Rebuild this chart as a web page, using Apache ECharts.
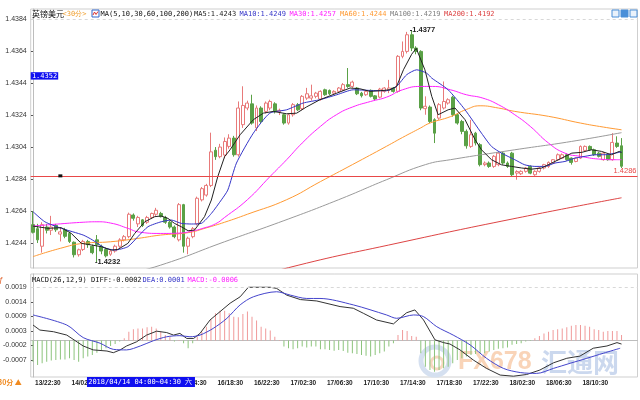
<!DOCTYPE html>
<html><head><meta charset="utf-8">
<script src="https://cdn.jsdelivr.net/npm/echarts@6/dist/echarts.min.js"></script>
<style>html,body{margin:0;padding:0;background:#fff}#c{width:640px;height:400px}</style>
</head><body><div id="c"></div>
<script>
// ---- time categories (30-minute candles, weekend gap) ----
function buildTimes(){
  const out=[];
  const add=(day,startMin,endMin)=>{
    for(let m=startMin;m<=endMin;m+=30){
      const d=day+Math.floor(m/1440), mm=m%1440;
      out.push(String(d).padStart(2,'0')+'/'+String(Math.floor(mm/60)).padStart(2,'0')+':'+String(mm%60).padStart(2,'0'));
    }
  };
  add(13,22*60+30,24*60+4*60+30);   // 13/22:30 .. 14/04:30
  add(16,5*60,2*1440+15*60);        // 16/05:00 .. 18/15:00
  return out;
}
const categories = buildTimes();

// ---- candles: [open, close, low, high] ----
const ohlc = [
[1.42555,1.42507,1.42500,1.42638],[1.42530,1.42460,1.42440,1.42560],[1.42420,1.42555,1.42380,1.42570],[1.42540,1.42520,1.42500,1.42560],
[1.42520,1.42540,1.42490,1.42610],[1.42550,1.42523,1.42510,1.42560],[1.42496,1.42510,1.42450,1.42540],[1.42523,1.42482,1.42470,1.42535],
[1.42500,1.42450,1.42440,1.42510],[1.42445,1.42367,1.42350,1.42450],[1.42367,1.42398,1.42355,1.42405],[1.42400,1.42450,1.42390,1.42460],
[1.42450,1.42430,1.42410,1.42460],[1.42420,1.42380,1.42370,1.42430],[1.42460,1.42430,1.42321,1.42490],[1.42420,1.42390,1.42370,1.42430],
[1.42400,1.42360,1.42350,1.42410],[1.42370,1.42390,1.42360,1.42400],[1.42390,1.42420,1.42380,1.42430],[1.42420,1.42460,1.42410,1.42470],
[1.42460,1.42480,1.42450,1.42490],[1.42480,1.42620,1.42470,1.42630],[1.42615,1.42595,1.42580,1.42625],[1.42560,1.42600,1.42540,1.42610],
[1.42585,1.42550,1.42540,1.42590],[1.42570,1.42600,1.42560,1.42610],[1.42600,1.42625,1.42590,1.42630],[1.42620,1.42645,1.42610,1.42660],
[1.42625,1.42605,1.42600,1.42635],[1.42600,1.42570,1.42560,1.42610],[1.42570,1.42540,1.42530,1.42580],[1.42540,1.42480,1.42470,1.42550],
[1.42460,1.42680,1.42450,1.42690],[1.42680,1.42420,1.42380,1.42685],[1.42420,1.42470,1.42370,1.42480],[1.42480,1.42530,1.42470,1.42540],
[1.42560,1.42720,1.42550,1.42730],[1.42710,1.42780,1.42700,1.42790],[1.42740,1.42800,1.42730,1.42810],[1.42800,1.43010,1.42790,1.43130],
[1.43020,1.42980,1.42960,1.43040],[1.42980,1.43040,1.42970,1.43060],[1.42990,1.43075,1.42970,1.43100],[1.43044,1.43096,1.43030,1.43120],
[1.43096,1.42992,1.42980,1.43110],[1.42992,1.43284,1.42980,1.43325],[1.43180,1.43300,1.43160,1.43420],[1.43284,1.43315,1.43270,1.43330],
[1.43310,1.43190,1.43180,1.43367],[1.43160,1.43284,1.43140,1.43300],[1.43284,1.43200,1.43190,1.43295],[1.43263,1.43315,1.43250,1.43325],
[1.43284,1.43325,1.43270,1.43336],[1.43310,1.43260,1.43250,1.43320],[1.43260,1.43270,1.43240,1.43280],[1.43242,1.43190,1.43180,1.43250],
[1.43190,1.43242,1.43180,1.43250],[1.43242,1.43305,1.43230,1.43315],[1.43305,1.43273,1.43265,1.43315],[1.43280,1.43357,1.43270,1.43365],
[1.43346,1.43373,1.43335,1.43410],[1.43346,1.43360,1.43330,1.43430],[1.43357,1.43377,1.43345,1.43385],[1.43340,1.43388,1.43330,1.43395],
[1.43398,1.43367,1.43360,1.43405],[1.43394,1.43373,1.43365,1.43400],[1.43377,1.43388,1.43370,1.43395],[1.43388,1.43409,1.43380,1.43415],
[1.43398,1.43430,1.43390,1.43440],[1.43430,1.43419,1.43410,1.43534],[1.43419,1.43446,1.43410,1.43455],[1.43409,1.43373,1.43365,1.43415],
[1.43377,1.43361,1.43350,1.43385],[1.43367,1.43388,1.43360,1.43395],[1.43394,1.43357,1.43350,1.43400],[1.43360,1.43340,1.43330,1.43365],
[1.43352,1.43402,1.43345,1.43410],[1.43388,1.43409,1.43380,1.43415],[1.43398,1.43409,1.43377,1.43460],[1.43409,1.43388,1.43380,1.43415],
[1.43388,1.43607,1.43380,1.43615],[1.43607,1.43638,1.43595,1.43700],[1.43638,1.43742,1.43625,1.43760],[1.43742,1.43659,1.43640,1.43770],
[1.43659,1.43638,1.43620,1.43670],[1.43638,1.43284,1.43270,1.43645],[1.43280,1.43295,1.43242,1.43357],[1.43290,1.43200,1.43190,1.43300],
[1.43211,1.43127,1.43065,1.43220],[1.43221,1.43305,1.43210,1.43315],[1.43284,1.43325,1.43275,1.43450],[1.43315,1.43336,1.43305,1.43345],
[1.43352,1.43242,1.43230,1.43360],[1.43242,1.43190,1.43180,1.43250],[1.43200,1.43138,1.43120,1.43210],[1.43138,1.43048,1.43030,1.43150],
[1.43044,1.43117,1.43035,1.43210],[1.43127,1.43065,1.43050,1.43135],[1.43055,1.42930,1.42919,1.43065],[1.42930,1.42940,1.42920,1.42950],
[1.42940,1.42919,1.42910,1.42950],[1.42919,1.42982,1.42910,1.42990],[1.42930,1.43002,1.42920,1.43010],[1.43002,1.42940,1.42930,1.43010],
[1.42940,1.42919,1.42910,1.42950],[1.43002,1.42867,1.42857,1.43010],[1.42877,1.42887,1.42836,1.42895],[1.42873,1.42888,1.42865,1.42895],
[1.42888,1.42909,1.42880,1.42915],[1.42919,1.42877,1.42870,1.42925],[1.42867,1.42888,1.42860,1.42895],[1.42888,1.42909,1.42880,1.42915],
[1.42909,1.42930,1.42900,1.42935],[1.42919,1.42944,1.42910,1.42950],[1.42940,1.42961,1.42935,1.42965],[1.42961,1.42992,1.42955,1.43000],
[1.42971,1.42992,1.42965,1.43000],[1.42992,1.42961,1.42955,1.43000],[1.42971,1.42944,1.42930,1.42975],[1.42950,1.42971,1.42945,1.42975],
[1.42971,1.43044,1.42965,1.43050],[1.43019,1.43044,1.43010,1.43050],[1.43044,1.43023,1.43015,1.43050],[1.43023,1.42992,1.42985,1.43030],
[1.43002,1.42982,1.42975,1.43010],[1.42961,1.43002,1.42955,1.43010],[1.42992,1.42961,1.42955,1.43000],[1.42961,1.43069,1.42955,1.43127],
[1.43065,1.43044,1.43035,1.43107],[1.43048,1.42920,1.42909,1.43096]
];

// ---- moving averages: [candle index, price] ----
const ma5 = [[0,1.42546],[3.3,1.42532],[6.2,1.42536],[8.4,1.42500],[10.6,1.42438],[12.8,1.42428],[15,1.42417],[17.2,1.42396],[18.6,1.42400],[20.8,1.42438],[22.3,1.42500],[24.5,1.42573],[26.7,1.42605],[28.1,1.42609],[29.6,1.42594],[31,1.42563],[32.5,1.42542],[34,1.42517],[35.4,1.42521],[37.6,1.42605],[39.1,1.42709],[40.5,1.42855],[42,1.42980],[43.2,1.43023],[45.4,1.43117],[48.3,1.43211],[50.5,1.43252],[52.7,1.43263],[55.6,1.43248],[57.8,1.43252],[59.9,1.43290],[62.9,1.43336],[66.6,1.43377],[69.5,1.43409],[71.7,1.43404],[73.9,1.43388],[76.1,1.43392],[78.2,1.43398],[79.7,1.43419],[81.2,1.43523],[83,1.43620],[84,1.43657],[85.9,1.43523],[87.4,1.43357],[88.8,1.43242],[91,1.43273],[92.5,1.43284],[94.7,1.43211],[96.9,1.43086],[98.3,1.43023],[100.5,1.42961],[102.7,1.42929],[104.9,1.42919],[107.1,1.42909],[109.3,1.42902],[111.5,1.42909],[113.7,1.42940],[115.9,1.42971],[118.1,1.43002],[120.3,1.43007],[122.4,1.43023],[124.6,1.43013],[126.8,1.42992],[128.5,1.43013],[129,1.43005]];
const ma10 = [[0,1.42636],[2.6,1.42573],[6.2,1.42532],[11,1.42490],[13,1.42460],[15.7,1.42410],[17.9,1.42396],[20.8,1.42417],[23,1.42480],[25.2,1.42542],[28.1,1.42573],[30.3,1.42584],[32.5,1.42563],[34.7,1.42559],[36.9,1.42563],[39.1,1.42625],[41.3,1.42710],[42.7,1.42771],[44.6,1.42940],[48.3,1.43127],[51.9,1.43252],[55.6,1.43273],[59.2,1.43315],[62.9,1.43336],[66.6,1.43367],[70.2,1.43398],[73.9,1.43394],[77.5,1.43392],[79.7,1.43419],[81.9,1.43492],[84.1,1.43523],[86.3,1.43502],[87.4,1.43471],[91,1.43398],[94.7,1.43273],[98.3,1.43127],[100.5,1.43044],[102.7,1.43002],[105.6,1.42961],[107.8,1.42929],[110,1.42919],[112.2,1.42919],[114.4,1.42940],[116.6,1.42950],[118.8,1.42971],[121,1.42982],[123.2,1.42992],[125.4,1.42992],[127.6,1.43002],[129,1.43010]];
const ma30 = [[0,1.42546],[6,1.42560],[11,1.42570],[14,1.42573],[17,1.42565],[21,1.42530],[23,1.42510],[28,1.42500],[32,1.42502],[35,1.42515],[37,1.42530],[40,1.42560],[42,1.42600],[47,1.42711],[52,1.42857],[55.6,1.42961],[59,1.43065],[63,1.43169],[66.5,1.43242],[70,1.43290],[74,1.43325],[77.5,1.43352],[81,1.43398],[85,1.43419],[87.6,1.43419],[91.5,1.43398],[95,1.43367],[98.6,1.43346],[102,1.43305],[105.6,1.43242],[109,1.43169],[113,1.43065],[116.6,1.43002],[120,1.42982],[124,1.42965],[127.6,1.42961],[129,1.42961]];
const ma60 = [[0,1.42355],[6,1.42407],[11,1.42438],[17,1.42448],[23,1.42469],[28,1.42490],[34,1.42505],[38,1.42535],[42,1.42570],[47,1.42620],[55.6,1.42711],[63,1.42824],[70,1.42930],[77.5,1.43045],[81,1.43100],[85,1.43160],[87,1.43190],[91.5,1.43230],[95,1.43275],[98,1.43298],[102,1.43284],[105.6,1.43263],[113,1.43232],[120,1.43190],[125,1.43165],[129,1.43148]];
const ma100 = [[11,1.42190],[20,1.42245],[28,1.42302],[42,1.42448],[55,1.42580],[67,1.42711],[77.5,1.42836],[86,1.42930],[91.5,1.42961],[105.6,1.43023],[118,1.43075],[129,1.43130]];
const ma200 = [[11,1.41920],[30,1.42080],[56,1.42286],[80,1.42440],[105,1.42590],[129,1.42723]];

// ---- MACD(26,12,9) ----
const macdDiff = [[0,0.00055],[1.5,0.00037],[4.5,0.00031],[7.4,0.00019],[11,-0.00020],[13.2,-0.00034],[16.2,-0.00038],[17.6,-0.00044],[19.1,-0.00034],[20.5,-0.00020],[22.7,-0.00005],[24.9,0.00019],[27.1,0.00033],[29.3,0.00028],[30.8,0.00019],[32.2,0.00025],[33.7,0.00007],[35.2,0.00007],[36.6,0.00025],[38.8,0.00073],[41,0.00103],[43.2,0.00133],[45.4,0.00156],[47.2,0.00190],[52,0.00190],[53.4,0.00186],[55.6,0.00162],[58.6,0.00146],[62.2,0.00141],[67.3,0.00121],[70.2,0.00115],[72.4,0.00097],[75.3,0.00073],[79,0.00059],[80.4,0.00079],[81.9,0.00099],[83.7,0.00109],[85.6,0.00073],[88.1,0.00002],[90,-0.00008],[91.4,-0.00013],[93.6,-0.00034],[96.5,-0.00070],[99.4,-0.00100],[102.4,-0.00124],[105.3,-0.00128],[108.2,-0.00122],[111.1,-0.00106],[114.1,-0.00080],[117,-0.00064],[119.9,-0.00056],[122.8,-0.00028],[125.8,-0.00020],[128,-0.00008],[129,-0.00013]];
const macdDea = [[0,0.00091],[7.4,0.00055],[11,0.00010],[14.7,-0.00010],[17.6,-0.00032],[20.5,-0.00034],[23.5,-0.00020],[26.4,-0.00001],[29.3,0.00013],[32.2,0.00017],[34.4,0.00013],[36.6,0.00019],[39.5,0.00043],[42.5,0.00079],[45.4,0.00127],[48.3,0.00156],[53.4,0.00174],[56.4,0.00162],[60,0.00150],[62.9,0.00150],[70.2,0.00127],[77.5,0.00091],[79.7,0.00079],[83.4,0.00091],[85.6,0.00085],[88.5,0.00049],[92.1,0.00019],[95.8,-0.00016],[99.4,-0.00064],[103.1,-0.00100],[106.8,-0.00115],[110.4,-0.00118],[114.1,-0.00100],[117.7,-0.00082],[121.4,-0.00064],[125,-0.00046],[128.7,-0.00028]];
const macdHist = [-0.00076,-0.00088,-0.00082,-0.00076,-0.00072,-0.00070,-0.00068,-0.00068,-0.00064,-0.00070,-0.00076,-0.00064,-0.00058,-0.00052,-0.00044,-0.00034,-0.00028,-0.00020,-0.00013,-0.00004,
0.000075,0.00031,0.00040,0.00043,0.00043,0.00047,0.00049,0.00043,0.00031,0.00019,0.00013,-0.00004,0.000015,-0.00010,-0.00028,-0.00010,0.00013,0.00031,0.00049,0.00075,
0.00097,0.00106,0.00106,0.00097,0.00085,0.00083,0.00094,0.00103,0.00085,0.00071,0.00049,0.00043,0.00035,0.00013,0.000015,-0.00022,-0.00028,-0.00032,-0.00028,-0.00022,
-0.00025,-0.00022,-0.00022,-0.00032,-0.00032,-0.00034,-0.00037,-0.00034,-0.00038,-0.00044,-0.00046,-0.00049,-0.00052,-0.00055,-0.00058,-0.00052,-0.00046,-0.00040,-0.00022,-0.00010,
0.00019,0.00037,0.00034,0.00016,0.00013,-0.00046,-0.00094,-0.00106,-0.00112,-0.00106,-0.00100,-0.00094,-0.00082,-0.00070,-0.00064,-0.00058,-0.00052,-0.00049,-0.00046,-0.00046,
-0.00040,-0.00034,-0.00030,-0.00028,-0.00025,-0.00016,-0.00013,-0.00010,-0.00004,-0.00002,0.000075,0.00016,0.00025,0.00031,0.00037,0.00040,0.00043,0.00047,0.00052,0.00055,
0.00055,0.00052,0.00049,0.00040,0.00037,0.00031,0.00034,0.00034,0.00034,0.00019];

// ---- axis ticks and marked values ----
const priceTicks = [1.4244,1.4264,1.4284,1.4304,1.4324,1.4344,1.4364,1.4384];
const macdTicks = [-0.0007,-0.00018,0.00034,0.00086,0.00138,0.0019];
const lastPrice = 1.4286;
const lowMark = [14, 1.4232];
const highMark = [83, 1.4377];
const crossIndex = 11, crossPrice = 1.4352;
const crossTimeLabel = '2018/04/14 04:00~04:30 六';

// ---------------------------------------------------------------
const PAD = 3;
const cats = categories.concat(Array(PAD).fill(''));
const N = cats.length;
const GL = 30.7, GR = 2.5;
const mono = "'DejaVu Sans Mono', 'Liberation Mono', monospace";
const sans = "'Liberation Sans', Arial, sans-serif";
const C = {up:'#e87a7a', down:'#5aa146', ma5:'#222222', ma10:'#3535c8', ma30:'#ff22ff', ma60:'#ff9a33', ma100:'#9a9a9a', ma200:'#dd4444', price:'#e84848'};

function lineSeries(name, data, color, xi, yi, smooth, extra){
  return Object.assign({name, type:'line', xAxisIndex:xi, yAxisIndex:yi, data, showSymbol:false, symbol:'none', smooth:smooth,
    lineStyle:{color, width:1}, z:4, silent:true}, extra||{});
}

const chart = echarts.init(document.getElementById('c'), null, {renderer:'canvas'});
const option = {
  animation:false,
  backgroundColor:'#ffffff',
  grid:[
    {left:GL, right:GR, top:9, height:259, show:true, borderColor:'#cfcfcf', borderWidth:1},
    {left:GL, right:GR, top:274, height:103, show:true, borderColor:'#cfcfcf', borderWidth:1}
  ],
  xAxis:[
    {type:'category', gridIndex:0, data:cats, boundaryGap:true, show:false},
    {type:'value', gridIndex:0, min:-0.5, max:N-0.5, show:false},
    {type:'category', gridIndex:1, data:cats, boundaryGap:true,
      axisLine:{show:true, lineStyle:{color:'#bdbdbd'}}, axisTick:{show:false},
      axisLabel:{interval:(i)=> i%8===0 && i<=120, align:'left', padding:[0,0,0,2], margin:3,
        fontSize:6.5, fontWeight:'bold', color:'#222', fontFamily:sans}},
    {type:'value', gridIndex:1, min:-0.5, max:N-0.5, show:false}
  ],
  yAxis:[
    {type:'value', gridIndex:0, min:1.42284, max:1.43903, scale:true,
      axisLine:{show:true, lineStyle:{color:'#bdbdbd'}},
      axisTick:{show:true, length:2, customValues:priceTicks, lineStyle:{color:'#555'}},
      axisLabel:{customValues:priceTicks, formatter:(v)=>v.toFixed(4), fontSize:7, color:'#333', margin:4, fontFamily:sans},
      splitLine:{show:false}},
    {type:'value', gridIndex:1, min:-0.001309, max:0.0023748,
      axisLine:{show:true, lineStyle:{color:'#bdbdbd'}},
      axisTick:{show:true, length:2, customValues:macdTicks, lineStyle:{color:'#555'}},
      axisLabel:{customValues:macdTicks, formatter:(v)=>v.toFixed(4), fontSize:7, color:'#333', margin:4, fontFamily:sans},
      splitLine:{show:false}}
  ],
  series:[
    {name:'K', type:'candlestick', xAxisIndex:0, yAxisIndex:0, data:ohlc, barWidth:'74%', z:3,
      itemStyle:{color:'#ffffff', color0:C.down, borderColor:C.up, borderColor0:C.down, borderWidth:1},
      markPoint:{silent:true, animation:false,
        data:[
          {coord:lowMark, symbol:'rect', symbolSize:[0.1,0.1],
            label:{show:true, position:'right', distance:0, offset:[-2,0], formatter:'-'+lowMark[1].toFixed(4), color:'#222', fontSize:7.5, fontWeight:'bold', fontFamily:sans}},
          {coord:highMark, symbol:'rect', symbolSize:[0.1,0.1],
            label:{show:true, position:'right', distance:0, offset:[-2,0], formatter:'-'+highMark[1].toFixed(4), color:'#222', fontSize:7.5, fontWeight:'bold', fontFamily:sans}},
          {coord:[6, lastPrice], symbol:'rect', symbolSize:[4,3], itemStyle:{color:'#111'}, label:{show:false}}
        ]}
    },
    lineSeries('MA200', ma200, C.ma200, 1, 0, true, {z:6,
      markLine:{silent:true, symbol:['none','none'], animation:false, precision:6,
        data:[
          {yAxis:lastPrice, lineStyle:{color:C.price, width:1, type:'solid'},
            label:{show:true, position:'insideEndTop', formatter:lastPrice.toFixed(4), color:C.price, fontSize:7.5, fontFamily:sans, distance:1}},
          {yAxis:priceTicks[priceTicks.length-1], lineStyle:{color:'#d8d8d8', width:1, type:[3,3]}, label:{show:false}}
        ]}}),
    lineSeries('MA100', ma100, C.ma100, 1, 0, true),
    lineSeries('MA60', ma60, C.ma60, 1, 0, true),
    lineSeries('MA30', ma30, C.ma30, 1, 0, true),
    lineSeries('MA10', ma10, C.ma10, 1, 0, 0.2),
    lineSeries('MA5', ma5, C.ma5, 1, 0, false),
    {name:'MACD', type:'bar', xAxisIndex:2, yAxisIndex:1, data:macdHist, barWidth:1, z:2, silent:true,
      itemStyle:{color:(p)=> p.value>=0 ? '#f09a9a' : '#8cc47c'}},
    lineSeries('DIFF', macdDiff, '#333333', 3, 1, false, {
      markLine:{silent:true, symbol:['none','none'], animation:false, precision:8,
        data:[{yAxis:macdTicks[macdTicks.length-1], lineStyle:{color:'#d8d8d8', width:1, type:[3,3]}, label:{show:false}}]}}),
    lineSeries('DEA', macdDea, '#4444cc', 3, 1, 0.3)
  ]
};
chart.setOption(option);

// ---- header texts, watermark and crosshair labels ----
const xCross = chart.convertToPixel({xAxisIndex:0}, crossIndex);
function txt(x,y,text,fill,font,extra){
  return Object.assign({type:'text', x, y, silent:true, z:50,
    style:{text, fill, font, verticalAlign:'middle', align:'left'}}, extra||{});
}
const hdrY = 14;
const graphic = [
  // faint site watermark in the MACD pane
  {type:'circle', shape:{cx:435,cy:361,r:14}, style:{fill:null, stroke:'#d5e0f0', lineWidth:5}, z:1, silent:true},
  {type:'circle', shape:{cx:437,cy:363,r:6}, style:{fill:null, stroke:'#f7d7c0', lineWidth:3}, z:1, silent:true},
  txt(458,362,'FX678','#f9d4b8',"bold 25px "+sans,{z:1}),
  txt(541,362,'汇通网','#cbd8ee',"bold 26px 'Noto Sans CJK SC'",{z:1}),
  txt(32,hdrY,'英镑美元','#111',"8px 'Noto Sans CJK SC'"),
  txt(62.5,hdrY,'<30分>','#f0a030',"7px "+mono),
  {type:'rect', shape:{x:92,y:10,width:7,height:7}, style:{fill:'#fff', stroke:'#3366cc', lineWidth:1}, z:50, silent:true},
  {type:'polyline', shape:{points:[[93,15],[94.5,12],[96,14.5],[98,11.5]]}, style:{stroke:'#dd3333', lineWidth:1, fill:null}, z:51, silent:true},
  txt(100.5,hdrY,'MA(5,10,30,60,100,200)','#111',"7px "+mono),
  txt(194,hdrY,'MA5:1.4243',C.ma5,"7px "+mono),
  txt(239.5,hdrY,'MA10:1.4249',C.ma10,"7px "+mono),
  txt(289.5,hdrY,'MA30:1.4257',C.ma30,"7px "+mono),
  txt(340,hdrY,'MA60:1.4244',C.ma60,"7px "+mono),
  txt(390,hdrY,'MA100:1.4219','#808080',"7px "+mono),
  txt(444,hdrY,'MA200:1.4192',C.ma200,"7px "+mono),
  // top-right buttons
  {type:'rect', shape:{x:612,y:10,width:7,height:7}, style:{fill:'#eaf2fb', stroke:'#4a8fd8', lineWidth:1}, z:50, silent:true},
  {type:'rect', shape:{x:621,y:10,width:7,height:7}, style:{fill:'#4a8fd8', stroke:'#4a8fd8', lineWidth:1}, z:50, silent:true},
  {type:'rect', shape:{x:630,y:10,width:7,height:7}, style:{fill:'#eaf2fb', stroke:'#4a8fd8', lineWidth:1}, z:50, silent:true},
  // MACD header
  txt(-1,279.5,'ƒ','#e0602a',"8px "+sans),
  txt(32,280,'MACD(26,12,9) DIFF:-0.0002','#111',"7px "+mono),
  txt(142.5,280,'DEA:0.0001','#3535c8',"7px "+mono),
  txt(187.5,280,'MACD:-0.0006','#ff22ff',"7px "+mono),
  // crosshair price label
  {type:'rect', shape:{x:GL,y:72.2,width:27.5,height:7.4}, style:{fill:'#1010f0'}, z:60, silent:true},
  txt(GL+1.2,75.9,crossPrice.toFixed(4),'#ffffff',"7px "+mono,{z:61}),
  // crosshair time label
  {type:'rect', shape:{x:xCross+3.8,y:377,width:108,height:10}, style:{fill:'#1010f0'}, z:60, silent:true},
  txt(xCross+5,382.3,crossTimeLabel,'#ffffff',"7px "+mono,{z:61}),
  // period label bottom-left
  txt(-2,382.5,'30分 ▲','#f08a20',"bold 7px 'Noto Sans CJK SC'")
];
chart.setOption({graphic});
</script>
</body></html>
